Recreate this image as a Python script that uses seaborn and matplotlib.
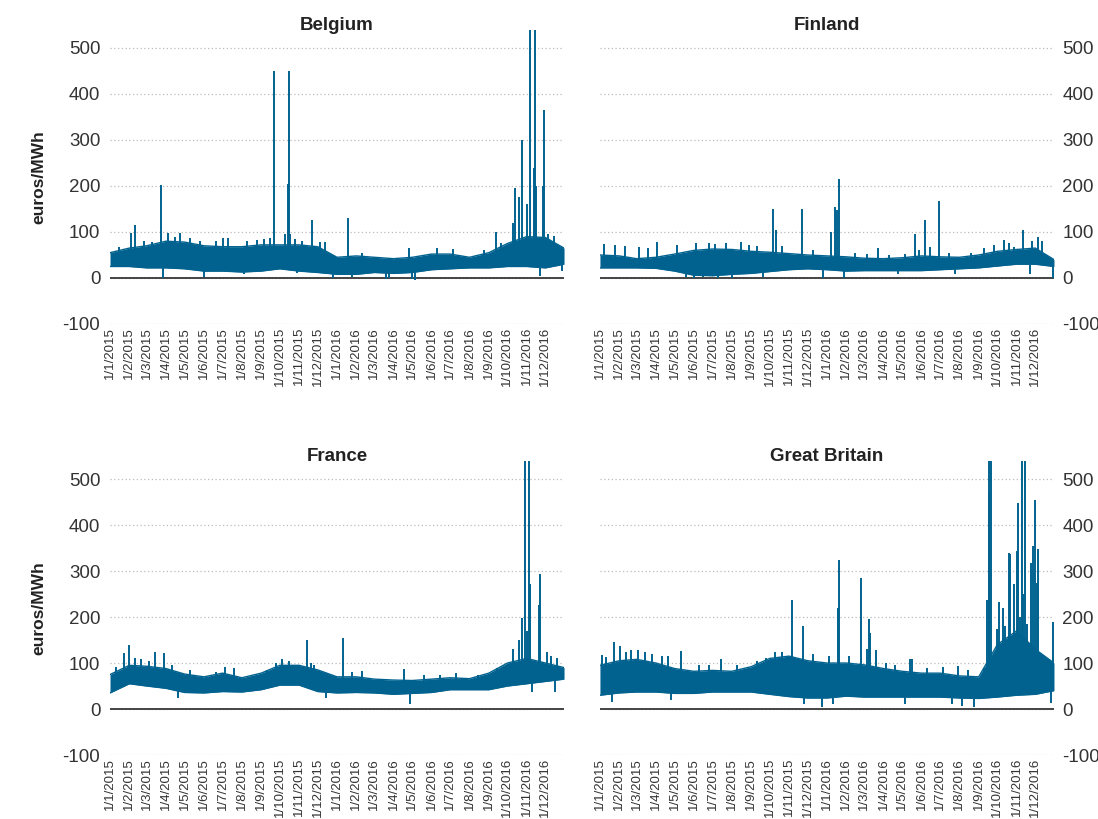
import numpy as np
import pandas as pd
import seaborn as sns
import matplotlib.pyplot as plt
import matplotlib.dates as mdates
import matplotlib.ticker as mticker

# envelope of the hourly prices, read at the start of each month (plus year end)
months = pd.date_range('2015-01-01', '2016-12-01', freq='MS').append(pd.DatetimeIndex(['2016-12-31']))

belgium_low = [25, 25, 22, 22, 20, 15, 15, 13, 15, 20, 15, 12, 8, 8, 12, 10, 12, 18, 20, 22, 22, 25, 25, 22, 30]
belgium_high = [55, 65, 70, 80, 78, 70, 68, 68, 72, 72, 72, 68, 45, 48, 45, 42, 45, 52, 52, 45, 55, 75, 90, 88, 65]
belgium_spike_dates = ['2015-02-04', '2015-02-10', '2015-03-24', '2015-03-27', '2015-04-05', '2015-04-23',
                       '2015-06-01', '2015-07-01', '2015-09-15', '2015-09-22', '2015-10-09', '2015-10-14',
                       '2015-10-15', '2015-10-18', '2015-11-22', '2015-12-25', '2016-01-19', '2016-01-25',
                       '2016-03-20', '2016-04-25', '2016-05-05', '2016-09-12', '2016-10-10', '2016-10-13',
                       '2016-10-20', '2016-10-24', '2016-11-01', '2016-11-07', '2016-11-12', '2016-11-14',
                       '2016-11-16', '2016-11-22', '2016-11-27', '2016-11-29', '2016-12-28',
                       '2015-01-15', '2015-02-25', '2015-03-10', '2015-04-15', '2015-05-10', '2015-05-25',
                       '2015-06-20', '2015-07-10', '2015-08-10', '2015-08-25', '2015-09-05', '2015-10-25',
                       '2015-11-05', '2015-12-05', '2015-12-12', '2016-02-10', '2016-06-10', '2016-07-05',
                       '2016-08-25', '2016-09-20', '2016-12-05', '2016-12-15', '2015-08-05', '2015-10-28',
                       '2016-03-25', '2016-05-01']
belgium_spike_values = [97, 115, 202, 0, 97, 97, 2, 88, 87, 450, 95, 205, 450, 95, 125, 0, 130, 2,
                        -3, 66, -5, 100, 120, 195, 175, 300, 160, 560, 240, 560, 200, 5, 200, 365, 15,
                        68, 80, 78, 90, 88, 80, 80, 88, 80, 82, 85, 85, 80, 78, 78, 55, 65, 62,
                        60, 75, 95, 92, 8, 10, 0, -3]

finland_low = [22, 22, 22, 21, 15, 6, 5, 8, 10, 14, 18, 20, 18, 15, 16, 16, 16, 16, 18, 20, 22, 26, 30, 30, 25]
finland_high = [50, 48, 42, 45, 52, 60, 63, 62, 58, 56, 53, 50, 48, 46, 43, 42, 44, 48, 46, 45, 50, 58, 62, 65, 40]
finland_spike_dates = ['2015-01-08', '2015-01-25', '2015-04-03', '2015-05-20', '2015-06-15', '2015-07-22',
                       '2015-08-15', '2015-10-07', '2015-10-11', '2015-11-22', '2015-12-25', '2016-01-07',
                       '2016-01-14', '2016-01-17', '2016-01-21', '2016-01-29', '2016-03-23', '2016-05-22',
                       '2016-06-07', '2016-06-29', '2016-10-12', '2016-11-11', '2016-11-22', '2016-12-06',
                       '2016-12-12', '2016-12-30',
                       '2015-02-10', '2015-03-05', '2015-03-20', '2015-05-05', '2015-06-05', '2015-06-25',
                       '2015-07-05', '2015-08-28', '2015-09-10', '2015-10-20', '2015-12-10', '2016-02-15',
                       '2016-03-05', '2016-04-10', '2016-05-05', '2016-05-28', '2016-06-15', '2016-07-15',
                       '2016-08-20', '2016-09-10', '2016-09-25', '2016-10-20', '2016-10-28', '2016-11-25',
                       '2015-06-01', '2015-07-10', '2015-08-01', '2015-09-20', '2016-04-25', '2016-07-25']
finland_spike_values = [74, 72, 78, 3, 2, 77, 78, 151, 104, 151, 0, 100, 155, 147, 215, 1, 66, 95,
                        125, 168, 82, 105, 9, 90, 80, 1,
                        70, 68, 65, 72, 75, 75, 73, 72, 70, 70, 60, 55, 52, 50, 52, 60, 68, 55,
                        55, 65, 72, 75, 68, 80, 0, 0, 0, 2, 8, 8]

france_low = [35, 55, 50, 45, 36, 35, 38, 37, 42, 52, 52, 38, 35, 36, 35, 32, 34, 36, 42, 42, 42, 50, 55, 60, 65]
france_high = [75, 95, 93, 88, 76, 70, 78, 68, 78, 95, 95, 85, 70, 70, 65, 63, 62, 65, 68, 66, 78, 100, 110, 100, 90]
france_spike_dates = ['2015-01-24', '2015-02-01', '2015-02-20', '2015-03-14', '2015-03-28', '2015-04-20',
                      '2015-10-05', '2015-11-13', '2015-11-20', '2015-12-15', '2016-01-10', '2016-04-18',
                      '2016-04-28', '2016-10-10', '2016-10-20', '2016-10-25', '2016-10-29', '2016-11-02',
                      '2016-11-05', '2016-11-06', '2016-11-09', '2016-11-20', '2016-11-22', '2016-12-03',
                      '2016-12-16',
                      '2015-01-10', '2015-02-10', '2015-03-05', '2015-04-10', '2015-05-10', '2015-06-20',
                      '2015-07-05', '2015-07-20', '2015-09-10', '2015-09-25', '2015-10-15', '2015-11-25',
                      '2016-01-25', '2016-02-10', '2016-05-20', '2016-06-15', '2016-07-10', '2016-08-15',
                      '2016-09-15', '2016-09-25', '2016-12-10', '2016-12-20']
france_spike_values = [121, 139, 108, 123, 121, 25, 108, 149, 100, 23, 154, 87, 12, 130, 149, 198,
                       560, 169, 560, 271, 37, 227, 293, 125, 37,
                       92, 110, 105, 95, 85, 80, 92, 90, 85, 100, 105, 95, 80, 82, 75, 75, 78, 75,
                       90, 92, 115, 110]

gb_low = [30, 35, 37, 37, 34, 34, 37, 37, 37, 32, 27, 24, 24, 28, 26, 26, 26, 26, 26, 24, 23, 26, 30, 32, 40]
gb_high = [95, 105, 108, 100, 88, 82, 84, 82, 92, 110, 115, 105, 100, 100, 96, 88, 82, 78, 78, 72, 70, 140, 170, 130, 100]
gb_spike_dates = ['2015-01-10', '2015-01-23', '2015-02-03', '2015-02-20', '2015-03-03', '2015-04-10',
                  '2015-05-11', '2015-07-15', '2015-11-05', '2015-11-24', '2015-12-24', '2016-01-19',
                  '2016-01-20', '2016-02-25', '2016-03-06', '2016-03-08', '2016-03-10', '2016-03-20',
                  '2016-05-14', '2016-05-17', '2016-07-29', '2016-08-05', '2016-09-10', '2016-09-14',
                  '2016-09-17', '2016-09-18', '2016-09-20', '2016-09-30', '2016-10-04', '2016-10-10',
                  '2016-10-14', '2016-10-20', '2016-10-22', '2016-10-28', '2016-11-01', '2016-11-03',
                  '2016-11-06', '2016-11-09', '2016-11-12', '2016-11-15', '2016-11-18', '2016-11-24',
                  '2016-11-28', '2016-11-30', '2016-12-03', '2016-12-06', '2016-12-10', '2016-12-26',
                  '2016-12-29',
                  '2015-01-05', '2015-02-12', '2015-03-15', '2015-03-25', '2015-04-20', '2015-06-10',
                  '2015-06-25', '2015-08-10', '2015-09-10', '2015-09-25', '2015-10-10', '2015-10-20',
                  '2015-12-10', '2016-01-05', '2016-02-05', '2016-04-05', '2016-04-20', '2016-06-10',
                  '2016-07-05', '2016-08-15', '2015-01-20', '2015-04-25', '2015-11-25', '2016-01-10',
                  '2016-05-05', '2016-07-20', '2016-08-25']
gb_spike_values = [114, 145, 136, 128, 128, 115, 127, 108, 236, 180, 4, 220, 323, 284, 130, 196, 165, 128,
                   108, 108, 93, 6, 90, 238, 560, 470, 560, 174, 232, 220, 180, 340, 336, 272, 344, 448,
                   200, 560, 250, 560, 185, 318, 355, 455, 274, 347, 120, 14, 189,
                   118, 125, 125, 120, 115, 95, 95, 95, 105, 110, 125, 125, 120, 115, 115, 100, 95, 90,
                   92, 85, 15, 20, 12, 10, 10, 12, 5]

BLUE = '#01628f'

sns.set_theme(style='white')
plt.rcParams['font.family'] = ['Liberation Sans Narrow', 'Liberation Sans', 'DejaVu Sans']
plt.rcParams['axes.unicode_minus'] = False

fig = plt.figure(figsize=(10.98, 8.19), dpi=100)


def date_label(x, pos):
    d = mdates.num2date(x)
    return f'{d.day}/{d.month}/{d.year}'


def draw(rect, low, high, spike_dates, spike_values, title, right):
    ax = fig.add_axes(rect)
    df = pd.DataFrame({'date': months, 'low': low, 'high': high})
    ax.axhline(0, color='#444444', lw=1.4, zorder=1)
    ax.fill_between(df['date'], df['low'], df['high'], color=BLUE, lw=0, zorder=2)
    sns.lineplot(data=df, x='date', y='high', ax=ax, color=BLUE, lw=1.0, zorder=2)
    sns.lineplot(data=df, x='date', y='low', ax=ax, color=BLUE, lw=1.0, zorder=2)

    sd = pd.to_datetime(spike_dates)
    mid = (np.array(low) + np.array(high)) / 2
    base = np.interp(mdates.date2num(sd), mdates.date2num(months), mid)
    ax.vlines(sd, base, spike_values, color=BLUE, lw=1.4, zorder=3)

    ax.set_xlim(pd.Timestamp('2015-01-01'), pd.Timestamp('2016-12-31'))
    ax.set_ylim(-100, 540)
    ax.set_yticks([-100, 0, 100, 200, 300, 400, 500])
    ax.xaxis.set_major_locator(mdates.MonthLocator())
    ax.xaxis.set_major_formatter(mticker.FuncFormatter(date_label))
    ax.tick_params(axis='x', rotation=90, labelsize=9.5, length=0, pad=2, colors='#333333')
    ax.tick_params(axis='y', labelsize=13.5, length=0, pad=7, colors='#333333')
    ax.set_xlabel('')
    ax.set_ylabel('')
    for s in ax.spines.values():
        s.set_visible(False)
    ax.grid(axis='y', linestyle=(0, (1, 2)), color='#bbbbbb', lw=0.9)
    ax.set_axisbelow(True)
    ax.set_title(title, fontsize=13.5, fontweight='bold', pad=0, color='#222222')
    if right:
        ax.yaxis.tick_right()
        ax.tick_params(axis='y', pad=6)
    else:
        ax.set_ylabel('euros/MWh', fontsize=12.5, fontweight='bold', color='#222222')
        ax.yaxis.set_label_coords(-0.14, 0.5)
    return ax


draw([0.1002, 0.6044, 0.4135, 0.3595], belgium_low, belgium_high,
     belgium_spike_dates, belgium_spike_values, 'Belgium', False)
draw([0.5464, 0.6044, 0.4135, 0.3595], finland_low, finland_high,
     finland_spike_dates, finland_spike_values, 'Finland', True)
draw([0.1002, 0.0781, 0.4135, 0.3595], france_low, france_high,
     france_spike_dates, france_spike_values, 'France', False)
draw([0.5464, 0.0781, 0.4135, 0.3595], gb_low, gb_high,
     gb_spike_dates, gb_spike_values, 'Great Britain', True)

fig.savefig('out.png', dpi=100)
